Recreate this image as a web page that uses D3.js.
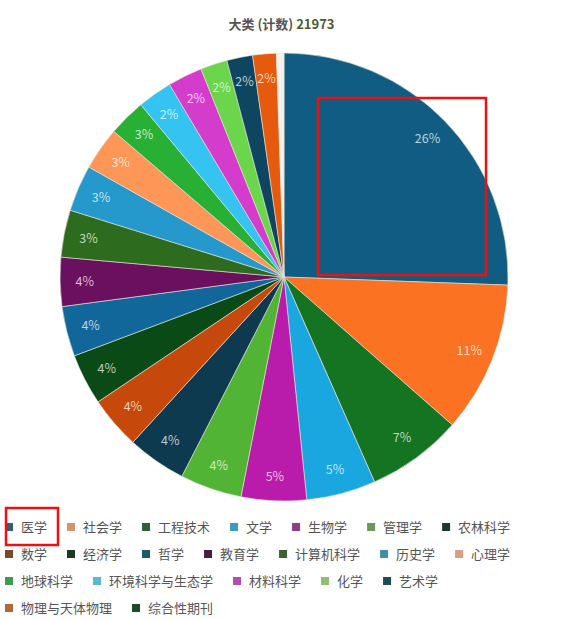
<!DOCTYPE html>
<html>
<head>
<meta charset="utf-8">
<script src="https://cdn.jsdelivr.net/npm/d3@7"></script>
<style>
  body { margin: 0; background: #fff; }
</style>
</head>
<body>
<div id="chart"></div>
<script>
// pie of journal categories (大类) with a flow legend below

const categories = ["医学", "社会学", "工程技术", "文学", "生物学", "管理学", "农林科学",
  "数学", "经济学", "哲学", "教育学", "计算机科学", "历史学", "心理学",
  "地球科学", "环境科学与生态学", "材料科学", "化学", "艺术学",
  "物理与天体物理", "综合性期刊"];

const counts = [5620, 2395, 1516, 1099, 1033, 980, 934,
  835, 810, 794, 775, 747, 736, 681,
  593, 549, 549, 425, 409,
  374, 119];

const pieColors = ["#105c82", "#fb7322", "#157421", "#1aa6df", "#b91cab", "#52b434", "#0e3a50",
  "#c6480a", "#0a4a16", "#11679a", "#6b105f", "#2d6b1e", "#2598cc", "#fd9656",
  "#28b035", "#35c4f2", "#d43ccc", "#6bd64b", "#0e4561",
  "#e55a0c", "#f3f1ea"];

const legendColors = ["#2d5f78", "#d4946a", "#2f5f36", "#3b9bba", "#8a3f83", "#6a9a55", "#1d3735",
  "#7a4a28", "#1c3a20", "#1f5a6a", "#4a1d45", "#3f6030", "#3f8fa0", "#d9a07f",
  "#3e9a4f", "#5ab8d0", "#b04fb0", "#8fc070", "#1e4a55",
  "#b06a35", "#1f4a2a"];

const totalLabel = "21973";

const W = 563, H = 619;
const cx = 284, cy = 277, radius = 224;
const fontFamily = "'Noto Sans CJK SC', 'Noto Sans', sans-serif";

const svg = d3.select("#chart")
  .append("svg")
  .attr("width", W)
  .attr("height", H);

// title
const title = svg.append("text")
  .attr("x", W / 2)
  .attr("y", 29)
  .attr("text-anchor", "middle")
  .style("font-family", fontFamily)
  .style("font-size", "13px")
  .style("font-weight", "bold");
title.append("tspan").attr("fill", "#555").text("大类 (计数) ");
title.append("tspan").attr("fill", "#4d5e2c").text(totalLabel);

// pie
const data = categories.map((c, i) => ({ name: c, value: counts[i], i: i }));
const total = d3.sum(counts);

const pie = d3.pie().value(d => d.value).sort(null);
const arc = d3.arc().innerRadius(0).outerRadius(radius);
const labelArc = d3.arc().innerRadius(radius * 0.89).outerRadius(radius * 0.89);

const g = svg.append("g").attr("transform", `translate(${cx},${cy})`);

g.selectAll("path")
  .data(pie(data))
  .join("path")
    .attr("d", arc)
    .attr("fill", d => pieColors[d.data.i])
    .attr("stroke", "#e8e4d8")
    .attr("stroke-width", 0.6);

g.selectAll("text")
  .data(pie(data).filter(d => d.data.value / total >= 0.015))
  .join("text")
    .attr("transform", d => `translate(${labelArc.centroid(d)})`)
    .attr("text-anchor", "middle")
    .attr("dy", "0.35em")
    .style("font-family", fontFamily)
    .style("font-size", "12.5px")
    .attr("fill", d => d3.interpolateRgb(pieColors[d.data.i], "#ffffff")(0.72))
    .text(d => `${Math.round(d.data.value / total * 100)}%`);

// legend, flowing left to right and wrapping
const legendLeft = 5, legendMax = 545, rowY = [527, 554, 581, 608];
const legend = svg.append("g");
let lx = legendLeft, row = 0;

categories.forEach((c, i) => {
  const item = legend.append("g");
  item.append("rect")
    .attr("width", 8)
    .attr("height", 8)
    .attr("fill", legendColors[i]);
  const t = item.append("text")
    .attr("x", 16)
    .attr("y", 4)
    .attr("dy", "0.36em")
    .style("font-family", fontFamily)
    .style("font-size", "13px")
    .attr("fill", "#555")
    .text(c);
  const w = 16 + t.node().getComputedTextLength();
  if (lx + w > legendMax && lx > legendLeft) { lx = legendLeft; row++; }
  item.attr("transform", `translate(${lx},${rowY[row] - 4})`);
  lx += w + 20;
});

// red highlight boxes
svg.append("rect")
  .attr("x", 318).attr("y", 98)
  .attr("width", 168).attr("height", 177)
  .attr("fill", "none")
  .attr("stroke", "#ee1111")
  .attr("stroke-width", 2.5);

svg.append("rect")
  .attr("x", 6).attr("y", 508)
  .attr("width", 52).attr("height", 37)
  .attr("fill", "none")
  .attr("stroke", "#ee1111")
  .attr("stroke-width", 2.5);
</script>
</body>
</html>
